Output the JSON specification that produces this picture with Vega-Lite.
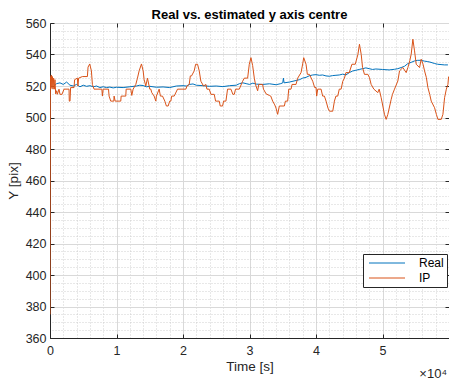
{
  "$schema": "https://vega.github.io/schema/vega-lite/v6.json",
  "width": 399,
  "height": 315,
  "autosize": {"type": "none"},
  "padding": {"left": 50, "top": 23, "right": 0, "bottom": 42},
  "config": {
    "font": "Liberation Sans",
    "view": {"stroke": "#262626", "strokeWidth": 1},
    "background": "white"
  },
  "title": {"text": "Real vs. estimated y axis centre", "fontSize": 13, "fontWeight": "bold", "color": "#000000", "offset": -5, "font": "Liberation Sans"},
  "datasets": {
    "real": [
      {"t": 600, "v": 520}, {"t": 1000, "v": 521.5}, {"t": 1500, "v": 522}, {"t": 2000, "v": 521}, {"t": 2500, "v": 522.5}, {"t": 3000, "v": 520.5}, {"t": 3500, "v": 520}, {"t": 4000, "v": 521}, {"t": 4500, "v": 519.5}, {"t": 5000, "v": 520.5}, {"t": 5500, "v": 519.8}, {"t": 6000, "v": 520.2}, {"t": 6500, "v": 519.5}, {"t": 7000, "v": 520}, {"t": 7500, "v": 519}, {"t": 8000, "v": 519.5}, {"t": 8500, "v": 519}, {"t": 9000, "v": 519.3}, {"t": 9500, "v": 518.8}, {"t": 10000, "v": 519.2}, {"t": 11000, "v": 519}, {"t": 12000, "v": 519.5}, {"t": 13000, "v": 520}, {"t": 13500, "v": 520.5}, {"t": 14000, "v": 520.3}, {"t": 14500, "v": 519.5}, {"t": 15000, "v": 519.8}, {"t": 16000, "v": 519.2}, {"t": 17000, "v": 519.4}, {"t": 18000, "v": 519}, {"t": 19000, "v": 520}, {"t": 20000, "v": 520.2}, {"t": 20500, "v": 520}, {"t": 21000, "v": 521}, {"t": 21500, "v": 521.3}, {"t": 22000, "v": 520.5}, {"t": 23000, "v": 520.2}, {"t": 24000, "v": 519.8}, {"t": 25000, "v": 520}, {"t": 26000, "v": 519.6}, {"t": 27000, "v": 520.2}, {"t": 28000, "v": 520.5}, {"t": 28500, "v": 521.5}, {"t": 29000, "v": 522}, {"t": 29500, "v": 521.5}, {"t": 30000, "v": 521}, {"t": 30500, "v": 521.8}, {"t": 31000, "v": 521.2}, {"t": 32000, "v": 521}, {"t": 33000, "v": 521.4}, {"t": 34000, "v": 520.8}, {"t": 34700, "v": 521.5}, {"t": 35000, "v": 522}, {"t": 35100, "v": 525}, {"t": 35200, "v": 522}, {"t": 36000, "v": 522.5}, {"t": 37000, "v": 523.5}, {"t": 37500, "v": 524}, {"t": 38000, "v": 525}, {"t": 38500, "v": 525.5}, {"t": 39000, "v": 526.5}, {"t": 39500, "v": 527}, {"t": 40000, "v": 527.2}, {"t": 40500, "v": 526.8}, {"t": 41000, "v": 527}, {"t": 41500, "v": 526.4}, {"t": 42000, "v": 526.2}, {"t": 42500, "v": 526.6}, {"t": 43000, "v": 526.8}, {"t": 43500, "v": 527}, {"t": 44000, "v": 527.5}, {"t": 44500, "v": 527}, {"t": 45000, "v": 528.5}, {"t": 45500, "v": 529.5}, {"t": 46000, "v": 530}, {"t": 46500, "v": 530.5}, {"t": 47000, "v": 531}, {"t": 47500, "v": 531.5}, {"t": 48000, "v": 531}, {"t": 48500, "v": 530.5}, {"t": 49000, "v": 530.8}, {"t": 50000, "v": 530.5}, {"t": 51000, "v": 530.2}, {"t": 51800, "v": 530.6}, {"t": 52300, "v": 531}, {"t": 52800, "v": 531.7}, {"t": 53300, "v": 532.5}, {"t": 53800, "v": 534.2}, {"t": 54300, "v": 535}, {"t": 54800, "v": 535.9}, {"t": 55300, "v": 536.3}, {"t": 55800, "v": 536.3}, {"t": 56300, "v": 535.8}, {"t": 56800, "v": 535.5}, {"t": 57300, "v": 535}, {"t": 57800, "v": 534.3}, {"t": 58300, "v": 533.8}, {"t": 58800, "v": 533.6}, {"t": 59300, "v": 533.4}, {"t": 59838, "v": 533.4}
    ],
    "ip": [
      {"t": 0, "v": 375}, {"t": 50, "v": 526}, {"t": 120, "v": 518}, {"t": 200, "v": 527}, {"t": 280, "v": 519}, {"t": 360, "v": 526}, {"t": 450, "v": 518}, {"t": 550, "v": 525}, {"t": 650, "v": 518}, {"t": 750, "v": 524}, {"t": 851, "v": 515}, {"t": 1000, "v": 517}, {"t": 1100, "v": 514.7}, {"t": 1355, "v": 518}, {"t": 1500, "v": 514.7}, {"t": 1800, "v": 514.7}, {"t": 2108, "v": 518}, {"t": 2861, "v": 518}, {"t": 2900, "v": 510.4}, {"t": 3012, "v": 510.4}, {"t": 3100, "v": 519}, {"t": 3614, "v": 519}, {"t": 3700, "v": 524}, {"t": 4116, "v": 525}, {"t": 4200, "v": 520}, {"t": 4300, "v": 525}, {"t": 4869, "v": 526}, {"t": 5622, "v": 526}, {"t": 5723, "v": 532}, {"t": 5974, "v": 534}, {"t": 6225, "v": 529.6}, {"t": 6376, "v": 521}, {"t": 6627, "v": 518}, {"t": 7800, "v": 518}, {"t": 7882, "v": 513.6}, {"t": 8000, "v": 518}, {"t": 8800, "v": 518}, {"t": 8886, "v": 513.6}, {"t": 9137, "v": 510.4}, {"t": 9600, "v": 510.4}, {"t": 9639, "v": 513.6}, {"t": 9800, "v": 510.4}, {"t": 10643, "v": 510.4}, {"t": 10700, "v": 513.6}, {"t": 11396, "v": 513.6}, {"t": 11450, "v": 518}, {"t": 12149, "v": 518}, {"t": 12300, "v": 514}, {"t": 12500, "v": 518}, {"t": 12902, "v": 521}, {"t": 13153, "v": 525}, {"t": 13404, "v": 529.6}, {"t": 13756, "v": 534}, {"t": 14007, "v": 529.6}, {"t": 14157, "v": 524}, {"t": 14408, "v": 520}, {"t": 14658, "v": 525}, {"t": 15000, "v": 518}, {"t": 15160, "v": 518}, {"t": 15300, "v": 515.8}, {"t": 15662, "v": 513.6}, {"t": 15913, "v": 510.4}, {"t": 16000, "v": 513.6}, {"t": 16415, "v": 518}, {"t": 16600, "v": 513.6}, {"t": 16917, "v": 513.6}, {"t": 17268, "v": 510.4}, {"t": 17500, "v": 507.3}, {"t": 17770, "v": 507.3}, {"t": 18000, "v": 510.4}, {"t": 18172, "v": 510.4}, {"t": 18300, "v": 513.6}, {"t": 18674, "v": 513.6}, {"t": 19176, "v": 518}, {"t": 20431, "v": 518}, {"t": 20600, "v": 520}, {"t": 20933, "v": 521}, {"t": 21100, "v": 526.4}, {"t": 21285, "v": 526.4}, {"t": 21686, "v": 529.6}, {"t": 21900, "v": 533.8}, {"t": 22188, "v": 533.8}, {"t": 22439, "v": 529.6}, {"t": 22690, "v": 523}, {"t": 23092, "v": 520}, {"t": 23443, "v": 521}, {"t": 23600, "v": 518}, {"t": 23945, "v": 518}, {"t": 24200, "v": 514.7}, {"t": 24698, "v": 514.7}, {"t": 24900, "v": 510.4}, {"t": 25451, "v": 510.4}, {"t": 25600, "v": 507.3}, {"t": 25953, "v": 507.3}, {"t": 26100, "v": 510.4}, {"t": 26455, "v": 510.4}, {"t": 26700, "v": 518}, {"t": 27208, "v": 518}, {"t": 27500, "v": 514.7}, {"t": 27710, "v": 514.7}, {"t": 27900, "v": 518}, {"t": 28463, "v": 518}, {"t": 28965, "v": 523}, {"t": 29216, "v": 525}, {"t": 29718, "v": 525}, {"t": 29969, "v": 533.8}, {"t": 30220, "v": 538}, {"t": 30471, "v": 533}, {"t": 30722, "v": 525}, {"t": 30900, "v": 521}, {"t": 31224, "v": 517}, {"t": 31400, "v": 521}, {"t": 31977, "v": 521}, {"t": 32100, "v": 518}, {"t": 32500, "v": 515}, {"t": 32981, "v": 514}, {"t": 33200, "v": 513.6}, {"t": 33483, "v": 510.4}, {"t": 33800, "v": 508}, {"t": 33985, "v": 506}, {"t": 34236, "v": 502}, {"t": 34487, "v": 507.3}, {"t": 35240, "v": 507.3}, {"t": 35400, "v": 510.4}, {"t": 35742, "v": 510.4}, {"t": 35900, "v": 518}, {"t": 36244, "v": 518}, {"t": 36400, "v": 521}, {"t": 36997, "v": 521}, {"t": 37248, "v": 525}, {"t": 37750, "v": 528.5}, {"t": 38000, "v": 534}, {"t": 38152, "v": 538}, {"t": 38503, "v": 533.8}, {"t": 38700, "v": 527.4}, {"t": 39005, "v": 527.4}, {"t": 39507, "v": 523}, {"t": 39800, "v": 519}, {"t": 40009, "v": 519}, {"t": 40100, "v": 513.6}, {"t": 40260, "v": 518}, {"t": 40762, "v": 518}, {"t": 41000, "v": 513.6}, {"t": 41264, "v": 513.6}, {"t": 41515, "v": 510.4}, {"t": 41800, "v": 506}, {"t": 42017, "v": 504}, {"t": 42519, "v": 504}, {"t": 42770, "v": 510.4}, {"t": 43000, "v": 513.6}, {"t": 43272, "v": 513.6}, {"t": 43500, "v": 518}, {"t": 43774, "v": 518}, {"t": 44025, "v": 523}, {"t": 44276, "v": 525}, {"t": 44500, "v": 528.5}, {"t": 45000, "v": 528.5}, {"t": 45400, "v": 533.8}, {"t": 45900, "v": 533.8}, {"t": 46300, "v": 540}, {"t": 46536, "v": 546.5}, {"t": 46800, "v": 540}, {"t": 47000, "v": 531.7}, {"t": 47288, "v": 527.4}, {"t": 47800, "v": 527.4}, {"t": 48041, "v": 525.3}, {"t": 48292, "v": 521}, {"t": 48700, "v": 518}, {"t": 49296, "v": 515.8}, {"t": 49500, "v": 518}, {"t": 49798, "v": 512.6}, {"t": 50049, "v": 507.3}, {"t": 50300, "v": 502}, {"t": 50551, "v": 498.8}, {"t": 50802, "v": 502}, {"t": 51304, "v": 511.5}, {"t": 51500, "v": 514.7}, {"t": 51806, "v": 518}, {"t": 52308, "v": 523.2}, {"t": 52559, "v": 529.6}, {"t": 53061, "v": 531.7}, {"t": 53563, "v": 528.5}, {"t": 53814, "v": 531.7}, {"t": 54100, "v": 536}, {"t": 54316, "v": 540.2}, {"t": 54567, "v": 549.7}, {"t": 54818, "v": 542.3}, {"t": 55069, "v": 533.8}, {"t": 55571, "v": 531.7}, {"t": 55822, "v": 537}, {"t": 56100, "v": 533.8}, {"t": 56324, "v": 529.6}, {"t": 56600, "v": 525.3}, {"t": 56826, "v": 519}, {"t": 57100, "v": 514.7}, {"t": 57328, "v": 510.4}, {"t": 57830, "v": 506.2}, {"t": 58100, "v": 502}, {"t": 58332, "v": 498.8}, {"t": 58834, "v": 498.8}, {"t": 59085, "v": 502}, {"t": 59336, "v": 512.6}, {"t": 59600, "v": 518}, {"t": 59838, "v": 521}, {"t": 59939, "v": 526}
    ]
  },
  "data": {"name": "real"},
  "resolve": {"axis": {"x": "independent", "y": "independent"}},
  "layer": [
    {
      "mark": {"type": "line", "opacity": 0},
      "encoding": {
        "x": {"field": "t", "type": "quantitative", "scale": {"domain": [0, 60000], "nice": false, "zero": false},
          "axis": {"orient": "top", "values": [2000,4000,6000,8000,12000,14000,16000,18000,22000,24000,26000,28000,32000,34000,36000,38000,42000,44000,46000,48000,52000,54000,56000,58000], "grid": true, "gridColor": "#c4c4c4", "gridDash": [1, 2], "gridWidth": 0.8, "ticks": false, "labels": false, "domain": false, "title": null}},
        "y": {"field": "v", "type": "quantitative", "scale": {"domain": [360, 560], "nice": false, "zero": false},
          "axis": {"orient": "right", "values": [365,370,375,385,390,395,405,410,415,425,430,435,445,450,455,465,470,475,485,490,495,505,510,515,525,530,535,545,550,555], "grid": true, "gridColor": "#c4c4c4", "gridDash": [1, 2], "gridWidth": 0.8, "ticks": false, "labels": false, "domain": false, "title": null}}
      }
    },
    {
      "mark": {"type": "line", "opacity": 0},
      "encoding": {
        "x": {"field": "t", "type": "quantitative",
          "axis": {"orient": "top", "values": [10000,20000,30000,40000,50000], "grid": false, "ticks": true, "tickSize": -4, "tickColor": "#262626", "labels": false, "domain": false, "title": null}},
        "y": {"field": "v", "type": "quantitative",
          "axis": {"orient": "right", "values": [380,400,420,440,460,480,500,520,540], "grid": false, "ticks": true, "tickSize": -4, "tickColor": "#262626", "labels": false, "domain": false, "title": null}}
      }
    },
    {
      "layer": [
        {"data": {"name": "real"}, "transform": [{"calculate": "'Real'", "as": "series"}], "mark": {"type": "line", "strokeWidth": 1, "clip": true}},
        {"data": {"name": "ip"}, "transform": [{"calculate": "'IP'", "as": "series"}], "mark": {"type": "line", "strokeWidth": 1, "clip": true}}
      ],
      "encoding": {
        "x": {"field": "t", "type": "quantitative",
          "axis": {"orient": "bottom", "values": [0,10000,20000,30000,40000,50000], "labelExpr": "datum.value/10000", "grid": true, "gridColor": "#d9d9d9", "gridWidth": 1, "ticks": true, "tickSize": -4, "tickColor": "#262626", "domain": true, "domainColor": "#262626", "labelFontSize": 12.5, "labelColor": "#262626", "labelPadding": 10, "labelFlush": false, "labelOverlap": false, "title": "Time [s]", "titleFontSize": 13.5, "titleFontWeight": "normal", "titleColor": "#262626", "titlePadding": 3}},
        "y": {"field": "v", "type": "quantitative",
          "axis": {"orient": "left", "values": [360,380,400,420,440,460,480,500,520,540,560], "grid": true, "gridColor": "#d9d9d9", "gridWidth": 1, "ticks": true, "tickSize": -4, "tickColor": "#262626", "domain": true, "domainColor": "#262626", "labelFontSize": 12.5, "labelColor": "#262626", "labelPadding": 8, "labelFlush": false, "labelOverlap": false, "title": "Y [pix]", "titleFontSize": 13.5, "titleFontWeight": "normal", "titleColor": "#262626", "titlePadding": 5}},
        "color": {"field": "series", "type": "nominal", "scale": {"domain": ["Real", "IP"], "range": ["#0072BD", "#D95319"]},
          "legend": {"title": null, "orient": "none", "legendX": 313, "legendY": 231, "symbolType": "M-6,0H6", "symbolSize": 36, "symbolStrokeWidth": 1, "symbolOffset": 15, "labelFontSize": 12, "labelColor": "#000000", "labelOffset": 26, "rowPadding": 3, "padding": 3, "strokeColor": "#262626", "fillColor": "white"}}
      }
    },
    {
      "data": {"values": [{"k": 1}]},
      "mark": {"type": "text", "text": "×10⁴", "align": "right", "baseline": "alphabetic", "dy": 40, "dx": -2, "fontSize": 13, "color": "#262626"},
      "encoding": {
        "x": {"datum": 60000, "type": "quantitative", "axis": null},
        "y": {"datum": 360, "type": "quantitative", "axis": null}
      }
    }
  ]
}
